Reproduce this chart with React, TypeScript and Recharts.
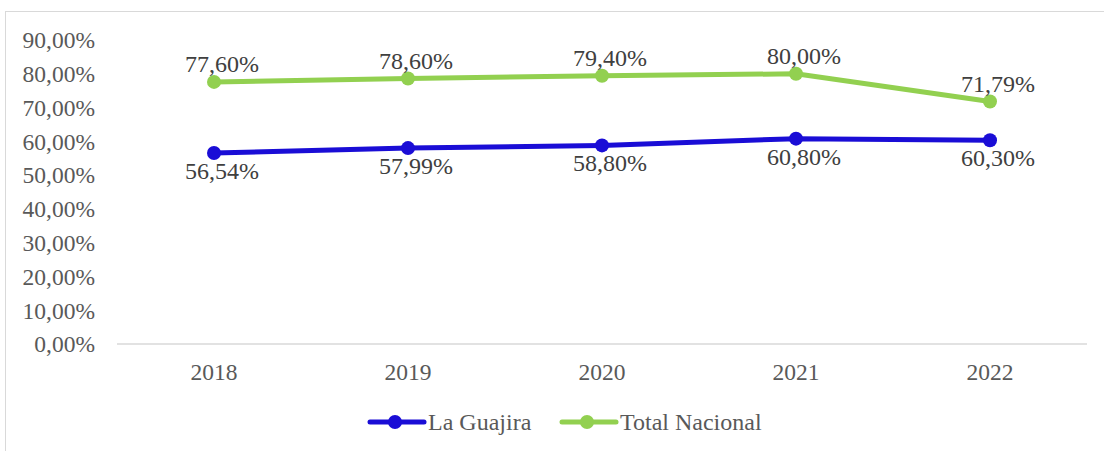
import React from "react";
import { LineChart, Line, XAxis, YAxis, Legend, LabelList } from "recharts";

const years = ["2018", "2019", "2020", "2021", "2022"];
const guajira = [56.54, 57.99, 58.8, 60.8, 60.3];
const nacional = [77.6, 78.6, 79.4, 80.0, 71.79];
const yTicks = [0, 10, 20, 30, 40, 50, 60, 70, 80, 90];

const data = years.map((year, i) => ({ year, guajira: guajira[i], nacional: nacional[i] }));

const BLUE = "#1a0dd6";
const GREEN = "#92d050";
const FONT = "serif";

function fmtPct(v: number) {
  return Number(v).toFixed(2).replace(".", ",") + "%";
}

// data label drawn as svg text
function makeLabel(below: boolean) {
  return function PointLabel(props: any) {
    const vb = props.viewBox || {};
    const x = props.x ?? vb.x;
    const y = props.y ?? vb.y;
    if (x == null || y == null) return null;
    return (
      <text
        x={x + 8}
        y={below ? y + 26 : y - 10}
        textAnchor="middle"
        fontFamily={FONT}
        fontSize={24}
        fill="#404040"
      >
        {fmtPct(props.value)}
      </text>
    );
  };
}

function LegendContent({ payload }: { payload?: { value: string; color: string }[] }) {
  if (!payload) return null;
  const widths = [162, 202];
  let cx = 368;
  return (
    <svg width={1104} height={44} style={{ display: "block" }}>
      {payload.map((p, i) => {
        const x0 = cx;
        cx += widths[i] + 30;
        return (
          <g key={p.value}>
            <line x1={x0 + 2} y1={30} x2={x0 + 56} y2={30} stroke={p.color} strokeWidth={5} strokeLinecap="round" />
            <circle cx={x0 + 27} cy={30} r={7} fill={p.color} />
            <text x={x0 + 60} y={38} fontFamily={FONT} fontSize={24} fill="#595959">
              {p.value}
            </text>
          </g>
        );
      })}
    </svg>
  );
}

export default function App() {
  return (
    <div style={{ position: "fixed", left: 0, top: 0, width: 1104, height: 451, background: "#fff", overflow: "hidden" }}>
      <div style={{ position: "absolute", left: 5, top: 11, width: 1200, height: 600, border: "1.5px solid #d9d9d9" }} />
      <div style={{ position: "absolute", left: 0, top: 0 }}>
        <LineChart width={1104} height={451} data={data} margin={{ top: 40, right: 17, bottom: 19, left: 0 }}>
          <XAxis
            dataKey="year"
            padding={{ left: 97, right: 97 }}
            tickLine={false}
            axisLine={{ stroke: "#d9d9d9", strokeWidth: 1.5 }}
            tick={{ fontFamily: FONT, fontSize: 23.5, fill: "#595959" }}
            tickMargin={13}
            height={48}
          />
          <YAxis
            domain={[0, 90]}
            ticks={yTicks}
            interval={0}
            width={117}
            axisLine={false}
            tickLine={false}
            tickSize={0}
            tickMargin={22}
            tickFormatter={(v: number) => fmtPct(v)}
            tick={{ fontFamily: FONT, fontSize: 23.5, fill: "#595959" }}
          />
          <Legend verticalAlign="bottom" height={40} content={<LegendContent />} />
          <Line
            name="La Guajira"
            dataKey="guajira"
            stroke={BLUE}
            strokeWidth={5}
            dot={{ r: 7, fill: BLUE, stroke: BLUE, strokeWidth: 0 }}
            isAnimationActive={false}
          >
            <LabelList dataKey="guajira" content={makeLabel(true)} />
          </Line>
          <Line
            name="Total Nacional"
            dataKey="nacional"
            stroke={GREEN}
            strokeWidth={5}
            dot={{ r: 7, fill: GREEN, stroke: GREEN, strokeWidth: 0 }}
            isAnimationActive={false}
          >
            <LabelList dataKey="nacional" content={makeLabel(false)} />
          </Line>
        </LineChart>
      </div>
    </div>
  );
}
